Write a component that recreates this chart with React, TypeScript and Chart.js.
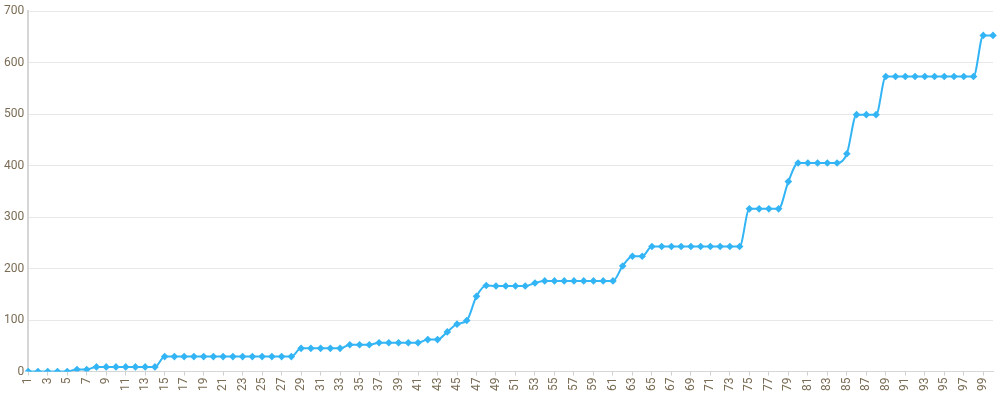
import React, { useEffect, useRef } from "react";
import { Chart, registerables } from "chart.js";

Chart.register(...registerables);

const categories: string[] = Array.from({ length: 100 }, (_, i) => String(i + 1));

const seriesValues: number[] = [
  0, 0, 0, 0, 0, 4, 4, 9, 9, 9,
  9, 9, 9, 9, 29, 29, 29, 29, 29, 29,
  29, 29, 29, 29, 29, 29, 29, 29, 45, 45,
  45, 45, 45, 52, 52, 52, 56, 56, 56, 56,
  56, 62, 62, 77, 92, 99, 146, 167, 166, 166,
  166, 166, 172, 176, 176, 176, 176, 176, 176, 176,
  176, 205, 224, 224, 243, 243, 243, 243, 243, 243,
  243, 243, 243, 243, 316, 316, 316, 316, 369, 405,
  405, 405, 405, 405, 423, 499, 499, 499, 573, 573,
  573, 573, 573, 573, 573, 573, 573, 573, 653, 653,
];

const yTicks = { min: 0, max: 700, step: 100 };

export default function App() {
  const ref = useRef<HTMLCanvasElement | null>(null);

  useEffect(() => {
    document.body.style.margin = "0";
    const ctx = ref.current;
    if (!ctx) return;
    const labelColor = "#7a6c55";
    const chart = new Chart(ctx, {
      type: "line",
      data: {
        labels: categories,
        datasets: [
          {
            data: seriesValues,
            borderColor: "#33b5f5",
            backgroundColor: "#33b5f5",
            borderWidth: 2,
            pointStyle: "rectRot",
            pointRadius: 3.8,
            pointBorderWidth: 0,
            cubicInterpolationMode: "monotone",
            fill: false,
          },
        ],
      },
      options: {
        animation: false,
        responsive: true,
        maintainAspectRatio: false,
        layout: { padding: { left: 0, right: 7, top: 4, bottom: 6 } },
        plugins: { legend: { display: false }, tooltip: { enabled: false } },
        scales: {
          x: {
            offset: false,
            grid: {
              drawOnChartArea: false,
              drawTicks: true,
              tickLength: 4,
              color: "#cfcfcf",
            },
            border: { color: "#d6d6d6", width: 1 },
            ticks: {
              autoSkip: false,
              maxRotation: 90,
              minRotation: 90,
              padding: 2,
              color: labelColor,
              font: { family: "Roboto", size: 12 },
              callback: (_v: any, i: number) => (i % 2 === 0 ? categories[i] : null),
            },
          },
          y: {
            min: yTicks.min,
            max: yTicks.max,
            grid: { color: "#e8e8e8", drawTicks: false },
            border: { color: "#d6d6d6", width: 2 },
            ticks: {
              stepSize: yTicks.step,
              padding: 4,
              color: labelColor,
              font: { family: "Roboto", size: 12 },
            },
          },
        },
      },
    });
    return () => chart.destroy();
  }, []);

  return (
    <div style={{ position: "relative", width: 1000, height: 399 }}>
      <canvas ref={ref} />
    </div>
  );
}
